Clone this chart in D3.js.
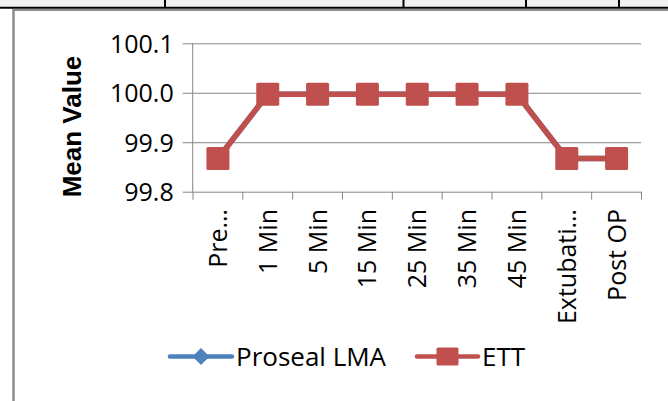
<!DOCTYPE html>
<html>
<head>
<meta charset="utf-8">
<script src="https://cdn.jsdelivr.net/npm/d3@7"></script>
<style>
  html, body { margin: 0; padding: 0; background: #fff; }
  svg { display: block; }
  text { font-family: "Open Sans", "Liberation Sans", sans-serif; fill: #000; }
</style>
</head>
<body>
<svg id="chart" width="668" height="401"></svg>
<script>
const categories = ["Pre…", "1 Min", "5 Min", "15 Min", "25 Min", "35 Min", "45 Min", "Extubati…", "Post OP"];
const prosealLMA = [99.867, 99.997, 99.997, 99.997, 99.997, 99.997, 99.997, 99.867, 99.867];
const ett = [99.867, 99.997, 99.997, 99.997, 99.997, 99.997, 99.997, 99.867, 99.867];
const yTicks = [99.8, 99.9, 100.0, 100.1];
const seriesNames = ["Proseal LMA", "ETT"];
const seriesColors = ["#4F81BD", "#C0504D"];

const svg = d3.select("#chart");

// spreadsheet background strip at top
svg.append("rect").attr("x", 0).attr("y", 0).attr("width", 668).attr("height", 8).attr("fill", "#f0f0f0");
[165, 403.5, 526, 619].forEach(x => {
  svg.append("line").attr("x1", x).attr("x2", x).attr("y1", 0).attr("y2", 8)
    .attr("stroke", "#000").attr("stroke-width", 2);
});
svg.append("line").attr("x1", 0).attr("x2", 668).attr("y1", 7.8).attr("y2", 7.8)
  .attr("stroke", "#000").attr("stroke-width", 2);
// chart border
svg.append("line").attr("x1", 12.5).attr("x2", 668).attr("y1", 10).attr("y2", 10)
  .attr("stroke", "#8c8c8c").attr("stroke-width", 2.2);
svg.append("line").attr("x1", 13.5).attr("x2", 13.5).attr("y1", 9).attr("y2", 401)
  .attr("stroke", "#8c8c8c").attr("stroke-width", 2.5);

const x0 = 193, x1 = 641.5, yTop = 43.3, yBot = 191.7;
const x = d3.scaleBand().domain(categories).range([x0, x1]);
const y = d3.scaleLinear().domain([99.8, 100.1]).range([yBot, yTop]);

const g = svg.append("g");

// gridlines + y ticks
const yAxis = d3.axisLeft(y).tickValues(yTicks).tickFormat(d3.format(".1f"))
  .tickSize(-(x1 - x0)).tickSizeOuter(0).tickPadding(19);
const ya = g.append("g").attr("transform", `translate(${x0 - 0.3},0)`).call(yAxis);
ya.select(".domain").remove();
ya.selectAll(".tick line").attr("stroke", "#868686").attr("stroke-width", 1)
  .attr("x1", -10);
ya.selectAll(".tick text").attr("font-size", 25).attr("fill", "#000")
  .attr("font-family", "'Open Sans', sans-serif").attr("dy", "0.36em");

// y axis line
g.append("line").attr("x1", x0 - 0.3).attr("x2", x0 - 0.3).attr("y1", yTop).attr("y2", yBot)
  .attr("stroke", "#868686").attr("stroke-width", 1);

// x axis ticks
const xa = g.append("g").attr("transform", `translate(0,${yBot})`);
const boundaries = categories.map(c => x(c)).concat([x1]);
xa.selectAll("line.xt").data(boundaries).join("line").attr("class", "xt")
  .attr("x1", d => d).attr("x2", d => d).attr("y1", 0).attr("y2", 8)
  .attr("stroke", "#868686").attr("stroke-width", 1);
xa.selectAll("text").data(categories).join("text")
  .attr("transform", d => `translate(${x(d) + x.bandwidth() / 2},${209 - yBot}) rotate(-90)`)
  .attr("text-anchor", "end").attr("dy", "0.36em").attr("font-size", 25)
  .text(d => d);

// y axis title
svg.append("text").attr("transform", "translate(81,126.5) rotate(-90)")
  .attr("text-anchor", "middle").attr("font-size", 26).attr("font-weight", "bold")
  .style("font-family", "'Liberation Sans', Arial, sans-serif")
  .text("Mean Value");

// series
const line = d3.line().x((d, i) => x(categories[i]) + x.bandwidth() / 2).y(d => y(d));
const diamond = s => `M0,${-s}L${s},0L0,${s}L${-s},0Z`;

function drawSeries(vals, color, kind) {
  const sg = g.append("g");
  sg.append("path").datum(vals).attr("d", line).attr("fill", "none")
    .attr("stroke", color).attr("stroke-width", 5.5).attr("stroke-linejoin", "round");
  vals.forEach((v, i) => {
    const cx = x(categories[i]) + x.bandwidth() / 2, cy = y(v);
    if (kind === "diamond") {
      sg.append("path").attr("d", diamond(9)).attr("transform", `translate(${cx},${cy})`)
        .attr("fill", color);
    } else {
      sg.append("rect").attr("x", cx - 11.5).attr("y", cy - 11.5).attr("width", 23).attr("height", 23)
        .attr("rx", 1.5).attr("fill", color);
    }
  });
}
drawSeries(prosealLMA, seriesColors[0], "diamond");
drawSeries(ett, seriesColors[1], "square");

// legend
const legY = 356.5;
const leg = [
  { name: seriesNames[0], color: seriesColors[0], x1: 170, x2: 232, kind: "diamond", tx: 236 },
  { name: seriesNames[1], color: seriesColors[1], x1: 417, x2: 478, kind: "square", tx: 482 }
];
leg.forEach(l => {
  svg.append("line").attr("x1", l.x1).attr("x2", l.x2).attr("y1", legY).attr("y2", legY)
    .attr("stroke", l.color).attr("stroke-width", 4.5).attr("stroke-linecap", "round");
  const mx = (l.x1 + l.x2) / 2;
  if (l.kind === "diamond") {
    svg.append("path").attr("d", diamond(8.5)).attr("transform", `translate(${mx},${legY})`).attr("fill", l.color);
  } else {
    svg.append("rect").attr("x", mx - 11).attr("y", legY - 9).attr("width", 22).attr("height", 18)
      .attr("rx", 1.5).attr("fill", l.color);
  }
  svg.append("text").attr("x", l.tx).attr("y", legY).attr("dy", "0.36em")
    .attr("font-size", 26).text(l.name);
});
</script>
</body>
</html>
